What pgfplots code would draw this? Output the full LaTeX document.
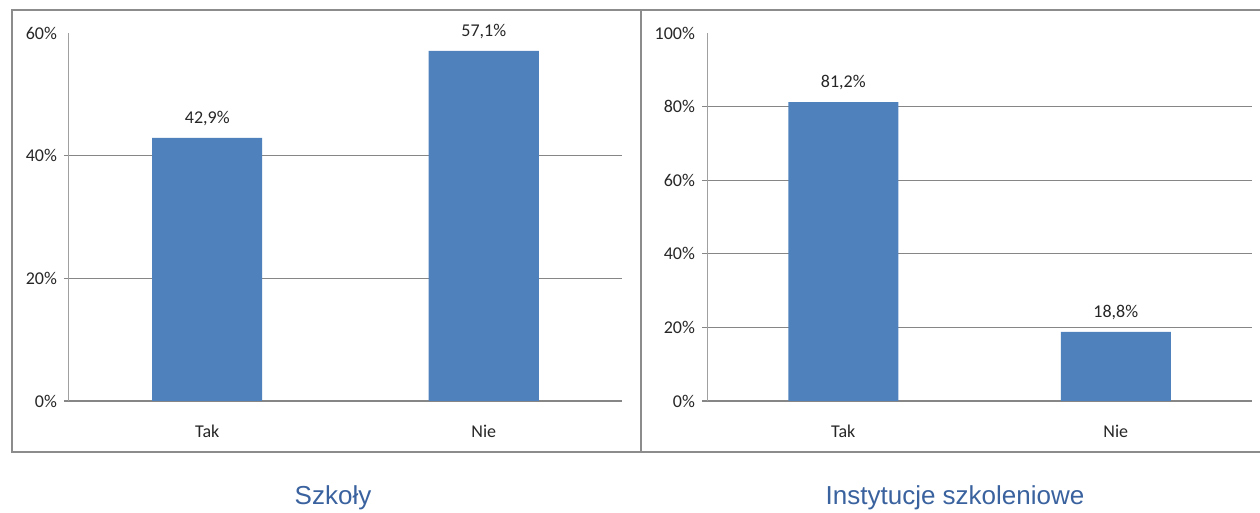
\documentclass[border=0pt]{standalone}
\usepackage{pgfplots}
\pgfplotsset{compat=1.18}
\usepackage{fontspec}
\setmainfont{Carlito}
\newfontfamily\arialf{Liberation Sans}
\definecolor{barblue}{RGB}{79,129,189}
\definecolor{gridgray}{RGB}{134,134,134}
\definecolor{axisgray}{RGB}{160,160,160}
\definecolor{framegray}{RGB}{140,140,140}
\definecolor{titleblue}{RGB}{58,98,158}
\pgfplotsset{
  panel/.style={
    scale only axis,
    anchor=south west,
    height=184pt,
    xmin=0.5, xmax=2.5,
    ymin=0,
    axis x line=bottom, axis y line=left,
    axis line style={-, axisgray, line width=0.5pt},
    x axis line style={gridgray, line width=0.6pt},
    ymajorgrids, grid style={gridgray, line width=0.6pt},
    xtick={1,2}, xticklabels={Tak,Nie},
    major x tick style={draw=none},
    extra x ticks={0.5,1.5,2.5},
    extra x tick labels={},
    extra x tick style={grid=none, major tick length=4pt, tick style={axisgray, line width=0.5pt}},
    tick align=outside,
    major y tick style={gridgray, line width=0.6pt},
    major tick length=2.5pt,
    /pgf/number format/assume math mode=true,
    yticklabel={\pgfmathprintnumber{\tick}\%},
    tick label style={font=\fontsize{9}{10}\selectfont, text=black!85},
    xticklabel style={yshift=-6pt},
    ybar, bar width=55pt,
    point meta=explicit symbolic,
    nodes near coords,
    nodes near coords style={font=\fontsize{9}{10}\selectfont, text=black!85, yshift=2.5pt},
  }
}
\begin{document}
\begin{tikzpicture}
\useasboundingbox (0,0) rectangle (630pt,256.5pt);
% frames
\draw[framegray, line width=1.3pt] (6pt,30.5pt) rectangle (320.5pt,251.5pt);
\draw[framegray, line width=1.3pt] (640pt,30.5pt) -- (320.5pt,30.5pt) -- (320.5pt,251.5pt) -- (640pt,251.5pt);
\begin{axis}[panel, at={(34.5pt,56pt)}, width=276.5pt, ymax=60,
  ytick={0,20,40}, extra y ticks={60}, extra y tick style={grid=none, tick style={draw=none}}]
\addplot[fill=barblue, draw=none] coordinates {(1,42.9) [42,9\%] (2,57.1) [57,1\%]};
\end{axis}
\begin{axis}[panel, at={(353.5pt,56pt)}, width=272.5pt, ymax=100,
  ytick={0,20,40,60,80}, extra y ticks={100}, extra y tick style={grid=none, tick style={draw=none}}]
\addplot[fill=barblue, draw=none] coordinates {(1,81.2) [81,2\%] (2,18.8) [18,8\%]};
\end{axis}
\node[font=\arialf\fontsize{13}{15}\selectfont, text=titleblue] at (166.5pt,7.5pt) {Szkoły};
\node[font=\arialf\fontsize{13}{15}\selectfont, text=titleblue] at (477.5pt,7.5pt) {Instytucje szkoleniowe};
\end{tikzpicture}
\end{document}
